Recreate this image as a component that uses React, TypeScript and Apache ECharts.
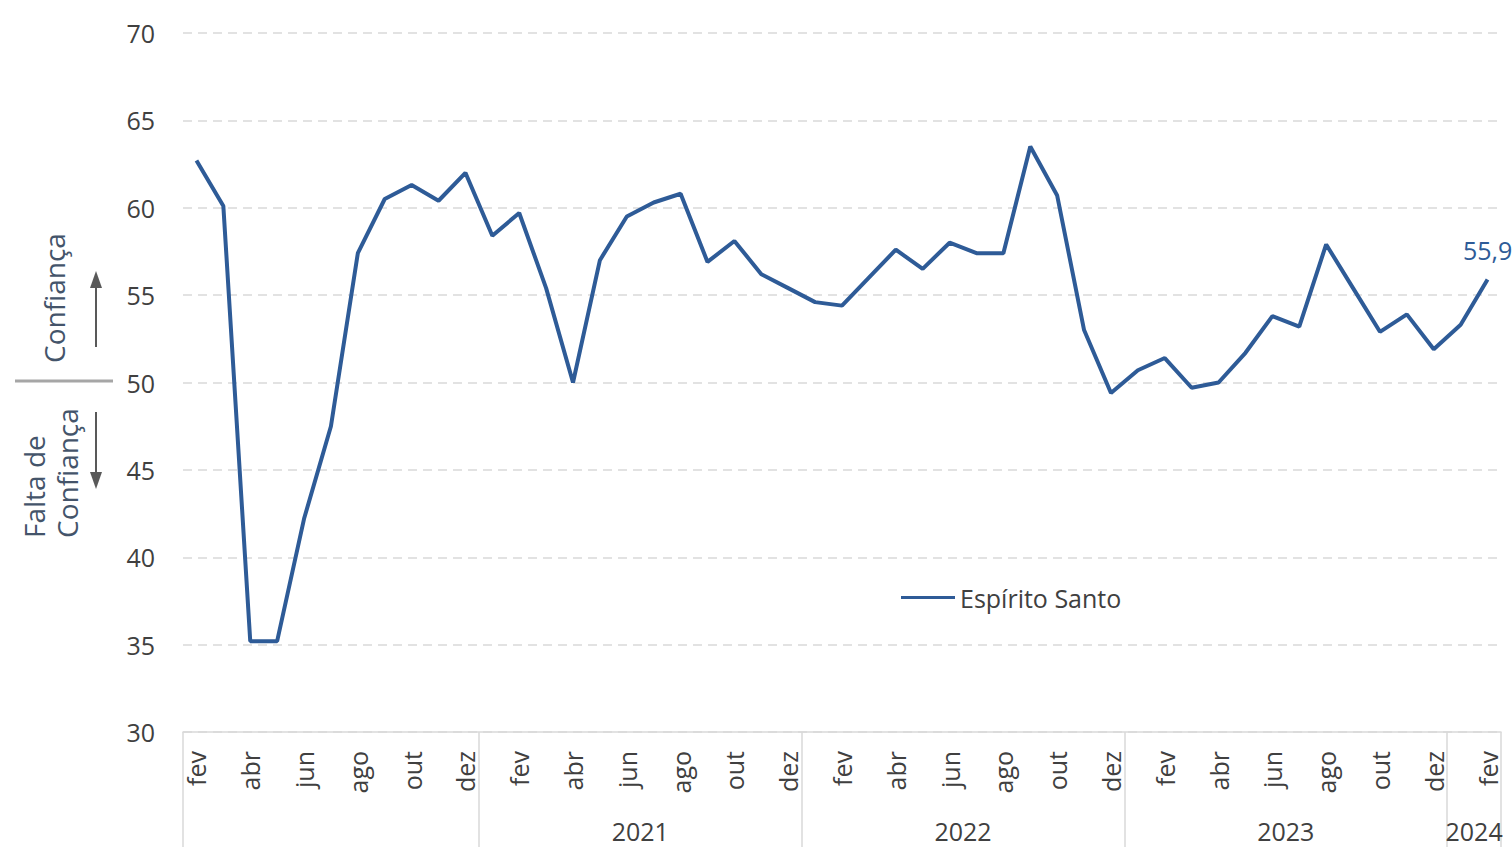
import React, { useEffect, useRef } from "react";
import * as echarts from "echarts";

const monthNames = ["jan", "fev", "mar", "abr", "mai", "jun", "jul", "ago", "set", "out", "nov", "dez"];
const months: string[] = [
  "fev", "mar", "abr", "mai", "jun", "jul", "ago", "set", "out", "nov", "dez",
  ...monthNames, ...monthNames, ...monthNames,
  "jan", "fev",
];
const values: number[] = [
  62.7, 60.1, 35.2, 35.2, 42.2, 47.5, 57.4, 60.5, 61.3, 60.4, 62.0,
  58.4, 59.7, 55.4, 50.0, 57.0, 59.5, 60.3, 60.8, 56.9, 58.1, 56.2, 55.4,
  54.6, 54.4, 56.0, 57.6, 56.5, 58.0, 57.4, 57.4, 63.5, 60.7, 53.0, 49.4,
  50.7, 51.4, 49.7, 50.0, 51.7, 53.8, 53.2, 57.9, 55.4, 52.9, 53.9, 51.9,
  53.3, 55.9,
];
const yearBoundaries = [0, 11, 23, 35, 47, 49];
const yearCenters = [17, 29, 41, 48];
const yearLabels = ["2021", "2022", "2023", "2024"];
const seriesName = "Espírito Santo";
const lastLabel = "55,9";

const FONT = "'Open Sans', 'Noto Sans', sans-serif";
const LINE = "#2E5B97";
const TXT = "#404040";
const GRID = "#D9D9D9";
const NOTE = "#44546A";

export default function App() {
  const ref = useRef<HTMLDivElement>(null);
  useEffect(() => {
    if (!ref.current) return;
    const chart = echarts.init(ref.current, null, { renderer: "svg" });
    const lastIdx = values.length - 1;
    chart.setOption({
      animation: false,
      textStyle: { fontFamily: FONT },
      grid: { left: 183, right: 11, top: 33, bottom: 115 },
      legend: {
        left: 896,
        top: 580,
        itemWidth: 54,
        itemHeight: 14,
        itemGap: 10,
        icon: "path://M0,6 L54,6 L54,9 L0,9 Z",
        itemStyle: { color: LINE },
        textStyle: { color: TXT, fontSize: 25, fontFamily: FONT },
        data: [seriesName],
      },
      xAxis: [
        {
          type: "category",
          data: months,
          boundaryGap: true,
          axisLine: { show: true, lineStyle: { color: GRID, width: 1.5 } },
          axisTick: { show: false },
          splitLine: { show: false },
          axisLabel: {
            interval: 1,
            rotate: 90,
            margin: 19,
            color: TXT,
            fontSize: 25,
            fontFamily: FONT,
          },
        },
        {
          type: "value",
          position: "bottom",
          min: 0,
          max: 49,
          axisLine: { show: false },
          splitLine: { show: false },
          axisTick: {
            show: true,
            customValues: yearBoundaries,
            length: 120,
            lineStyle: { color: GRID, width: 1.5 },
          },
          axisLabel: {
            show: true,
            customValues: yearCenters,
            margin: 86,
            color: TXT,
            fontSize: 25,
            fontFamily: FONT,
            formatter: (v: number) => {
              const idx = yearCenters.indexOf(Math.round(v));
              return idx >= 0 ? yearLabels[idx] : "";
            },
          },
        },
      ],
      yAxis: {
        type: "value",
        min: 30,
        max: 70,
        interval: 5,
        axisLine: { show: false },
        axisTick: { show: false },
        axisLabel: { color: TXT, fontSize: 25, fontFamily: FONT, margin: 28 },
        splitLine: { lineStyle: { color: GRID, type: [9, 6], width: 1.5 } },
      },
      series: [
        {
          name: seriesName,
          type: "line",
          data: values,
          symbol: "none",
          lineStyle: { color: LINE, width: 4 },
          itemStyle: { color: LINE },
          xAxisIndex: 0,
          yAxisIndex: 0,
          markPoint: {
            symbol: "circle",
            symbolSize: 2,
            itemStyle: { color: "transparent" },
            label: {
              show: true,
              position: "top",
              distance: 16,
              formatter: lastLabel,
              color: LINE,
              fontSize: 25,
              fontFamily: FONT,
            },
            data: [{ coord: [lastIdx, values[lastIdx]] }],
          },
        },
      ],
      graphic: [
        {
          type: "text",
          x: 54,
          y: 298,
          rotation: Math.PI / 2,
          style: {
            text: "Confiança",
            fill: NOTE,
            font: `28px ${FONT}`,
            textAlign: "center",
            textVerticalAlign: "middle",
          },
        },
        {
          type: "text",
          x: 34,
          y: 538,
          rotation: Math.PI / 2,
          style: {
            text: "Falta de",
            fill: NOTE,
            font: `28px ${FONT}`,
            textAlign: "left",
            textVerticalAlign: "middle",
          },
        },
        {
          type: "text",
          x: 67,
          y: 538,
          rotation: Math.PI / 2,
          style: {
            text: "Confiança",
            fill: NOTE,
            font: `28px ${FONT}`,
            textAlign: "left",
            textVerticalAlign: "middle",
          },
        },
        {
          type: "line",
          shape: { x1: 15, y1: 381, x2: 113, y2: 381 },
          style: { stroke: "#A6A6A6", lineWidth: 3 },
        },
        {
          type: "line",
          shape: { x1: 96, y1: 347, x2: 96, y2: 285 },
          style: { stroke: "#595959", lineWidth: 2 },
        },
        {
          type: "polygon",
          shape: { points: [[90, 288], [102, 288], [96, 271]] },
          style: { fill: "#595959" },
        },
        {
          type: "line",
          shape: { x1: 96, y1: 412, x2: 96, y2: 474 },
          style: { stroke: "#595959", lineWidth: 2 },
        },
        {
          type: "polygon",
          shape: { points: [[90, 472], [102, 472], [96, 489]] },
          style: { fill: "#595959" },
        },
      ],
    });
    return () => chart.dispose();
  }, []);
  return (
    <div
      ref={ref}
      style={{ position: "absolute", left: 0, top: 0, width: 1512, height: 847 }}
    />
  );
}
